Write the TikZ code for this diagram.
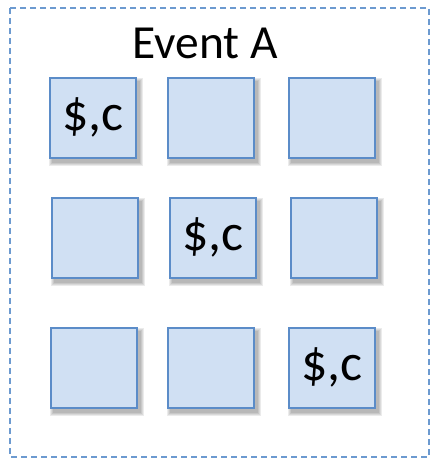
\documentclass[tikz,border=0pt]{standalone}
\usepackage{fontspec}
\setmainfont{Carlito}
\usetikzlibrary{backgrounds}
\definecolor{boxfill}{HTML}{D0E0F3}
\definecolor{boxline}{HTML}{5B8CC8}
\definecolor{dashline}{HTML}{6C9AD0}
\begin{document}
\begin{tikzpicture}[x=1pt,y=-1pt,
  cell/.style={draw=boxline,line width=2pt,fill=boxfill,minimum width=86pt,minimum height=80pt,inner sep=0pt,
    font=\fontsize{52}{56}\selectfont},
  shadowlayer/.style={fill=black,opacity=0.08,draw=none},
  frame/.style={draw=dashline,line width=1.2pt,dash pattern=on 6pt off 4pt}]
\useasboundingbox (0,0) rectangle (433,461);
\draw[frame] (10,8) rectangle (429,457);
\node[font=\fontsize{47.5}{52}\selectfont,anchor=base] (title) at (205,58) {Event A};
\node[cell] (c11) at (93,117.5) {\$,c};
\node[cell] (c12) at (211,117.5) {};
\node[cell] (c13) at (332,117.5) {};
\node[cell] (c21) at (94.5,237.5) {};
\node[cell] (c22) at (213,237.5) {\$,c};
\node[cell] (c23) at (333.5,237.5) {};
\node[cell] (c31) at (93.5,367.5) {};
\node[cell] (c32) at (211,367.5) {};
\node[cell] (c33) at (332,367.5) {\$,c};
\begin{scope}[on background layer]
\foreach \n in {c11,c12,c13,c21,c22,c23,c31,c32,c33}{
  \foreach \r in {0,1,2,3}{
    \path[shadowlayer] ([shift={(3-3+\r,4-3+\r)}]\n.north west) rectangle ([shift={(3+3-\r,4+3-\r)}]\n.south east);
  }
}
\end{scope}
\end{tikzpicture}
\end{document}
